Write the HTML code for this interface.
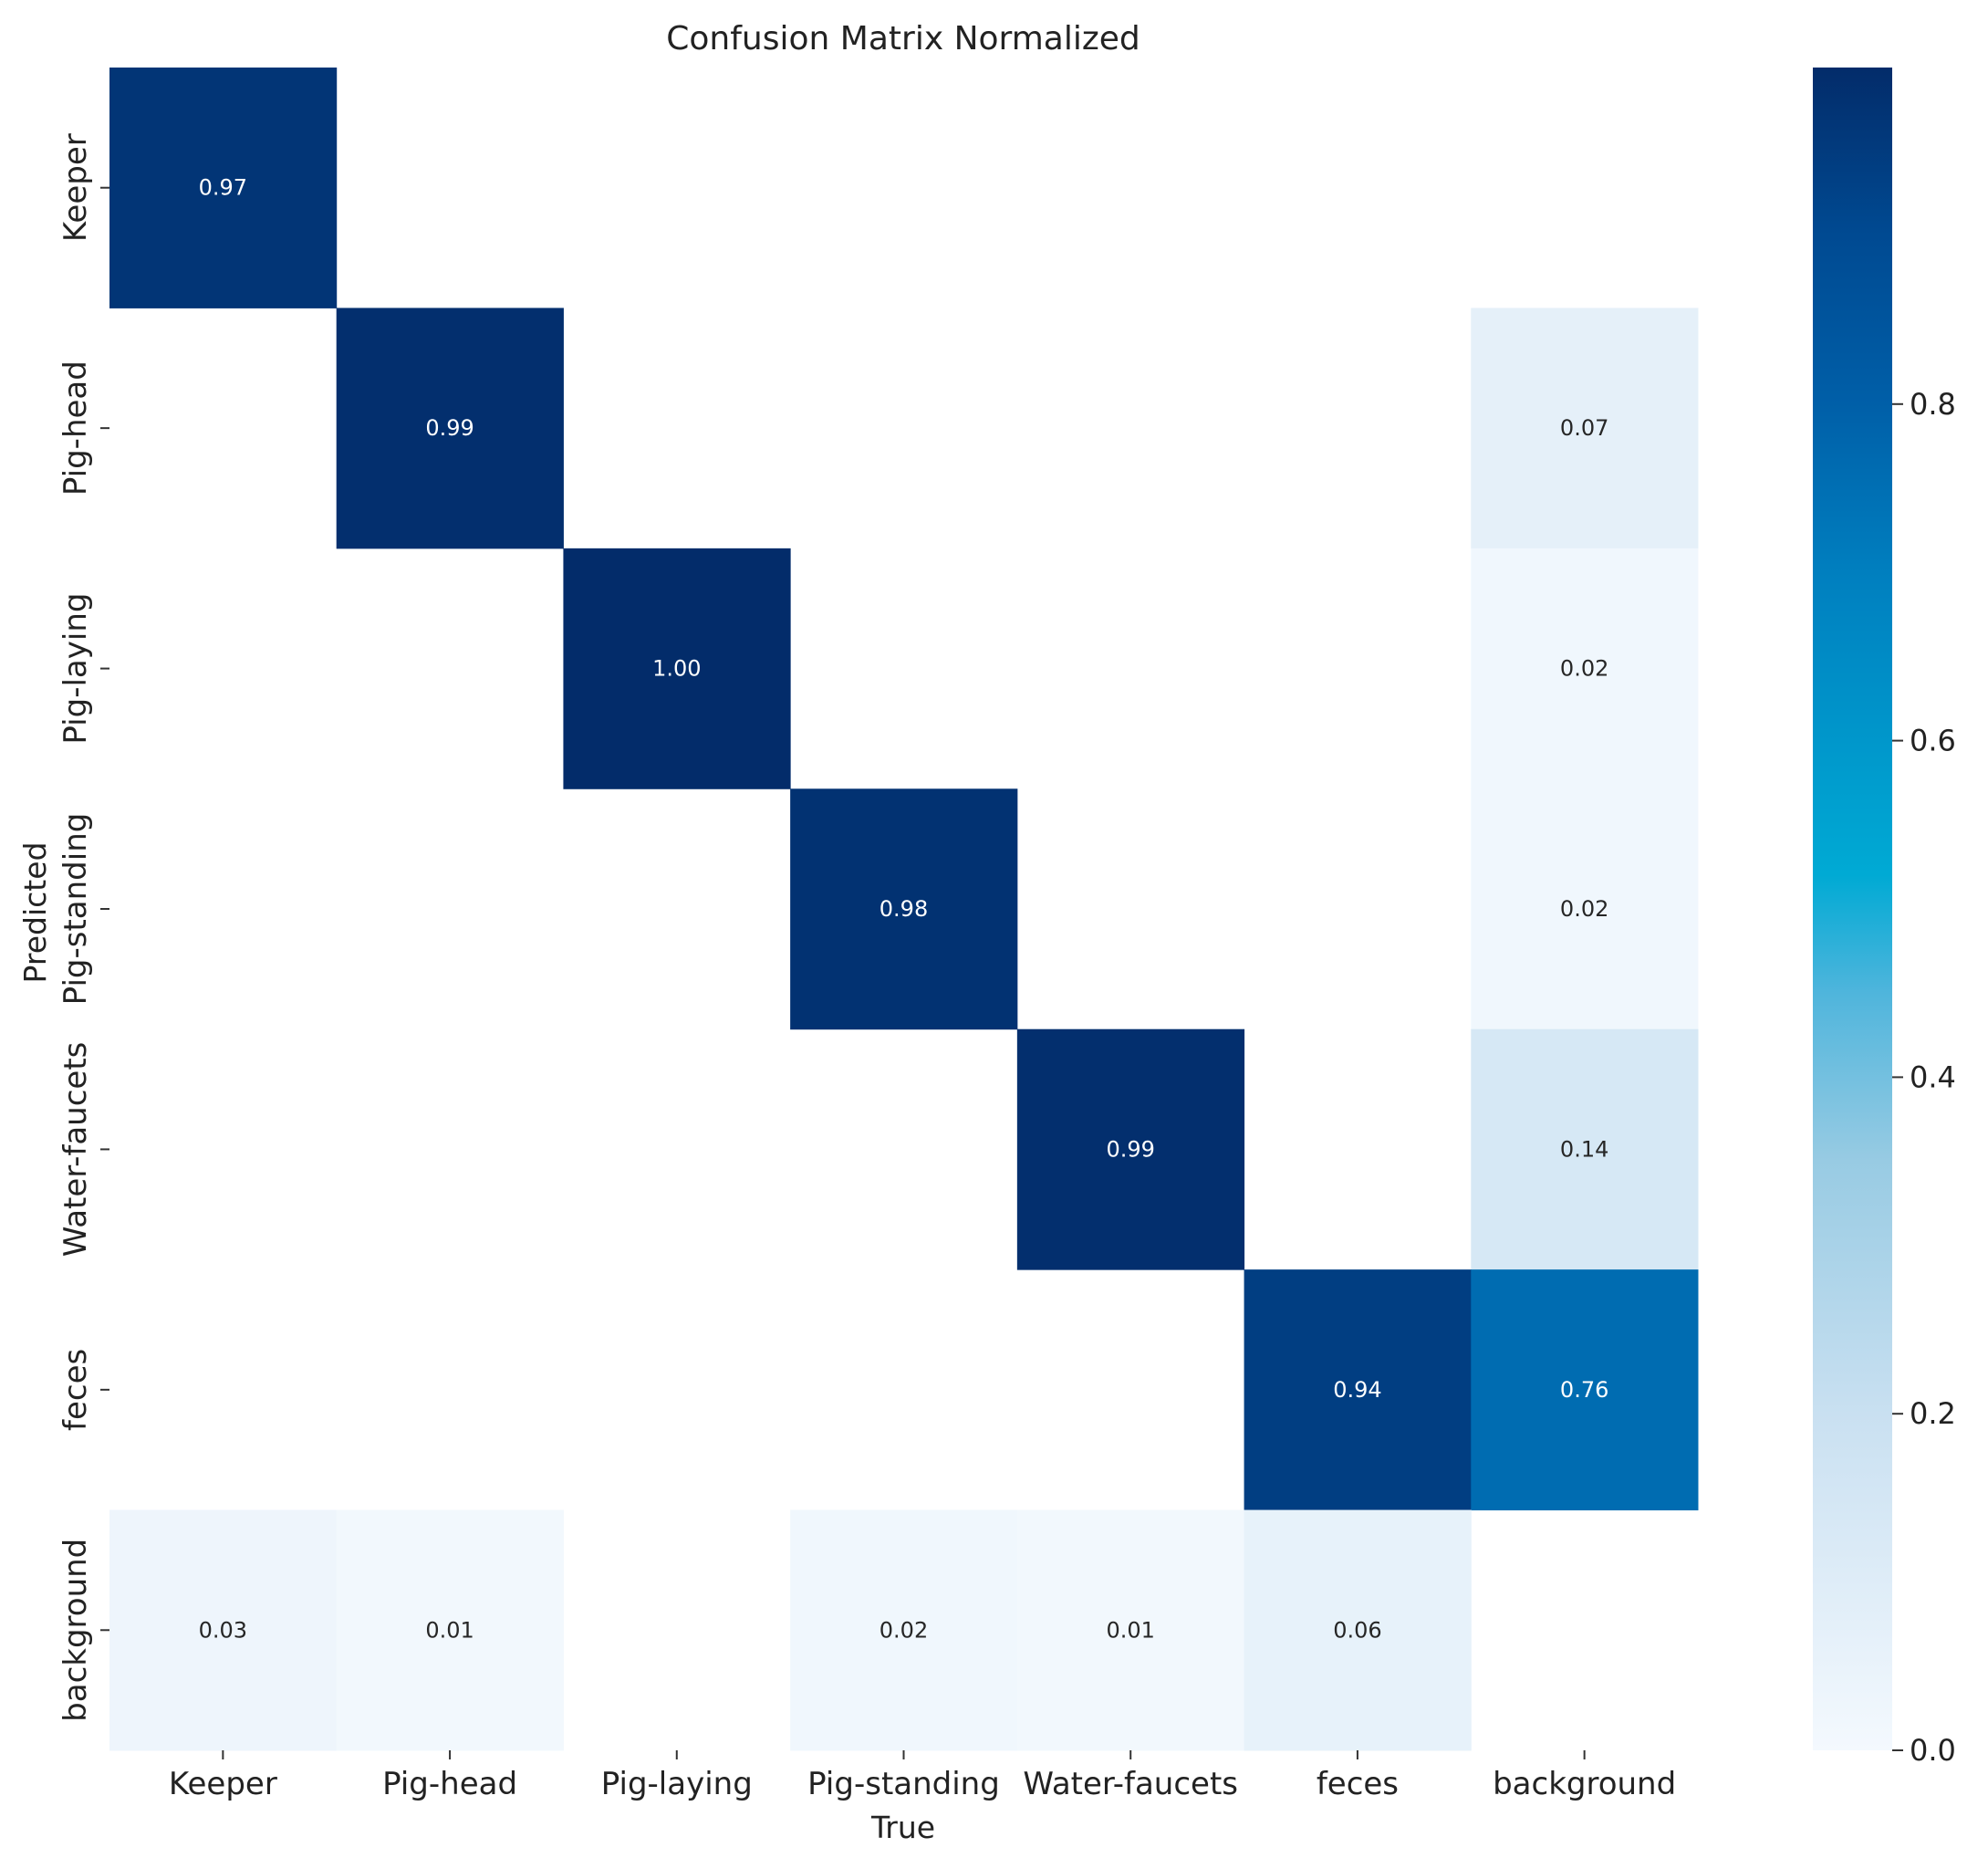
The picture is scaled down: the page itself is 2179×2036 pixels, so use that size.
<!DOCTYPE html>
<html><head><meta charset="utf-8"><style>
html,body{margin:0;padding:0;background:#fff;}
svg{display:block;font-family:"DejaVu Sans","Liberation Sans",sans-serif;}
</style></head><body>
<svg id="chart" width="2179" height="2036" viewBox="0 0 2179 2036" xmlns="http://www.w3.org/2000/svg">
<defs>
<linearGradient id="cbgrad" x1="0" y1="1" x2="0" y2="0">
<stop offset="0" stop-color="#f4f9fe"/>
<stop offset="0.2" stop-color="#c9e0f1"/>
<stop offset="0.35" stop-color="#98cbe3"/>
<stop offset="0.45" stop-color="#4fb5dc"/>
<stop offset="0.52" stop-color="#00aad4"/>
<stop offset="0.6" stop-color="#0097cb"/>
<stop offset="0.7" stop-color="#007fbf"/>
<stop offset="0.8" stop-color="#005fa8"/>
<stop offset="0.9" stop-color="#004a92"/>
<stop offset="1" stop-color="#032c6a"/>
</linearGradient>
</defs>
<text x="990" y="54" font-size="36" text-anchor="middle" fill="#222">Confusion Matrix Normalized</text>
<g id="cells"></g>
<g id="labels"></g>
<text x="990" y="2014" font-size="33" text-anchor="middle" fill="#222">True</text>
<text transform="translate(50,1000) rotate(-90)" font-size="33" text-anchor="middle" fill="#222">Predicted</text>
<rect x="1987" y="74" width="87" height="1844" fill="url(#cbgrad)"/>
<g id="cbticks"></g>
</svg>
<script>
const categories = ["Keeper","Pig-head","Pig-laying","Pig-standing","Water-faucets","feces","background"];
const rowKeeper = [0.97,0,0,0,0,0,0];
const rowPigHead = [0,0.99,0,0,0,0,0.07];
const rowPigLaying = [0,0,1.00,0,0,0,0.02];
const rowPigStanding = [0,0,0,0.98,0,0,0.02];
const rowWater = [0,0,0,0,0.99,0,0.14];
const rowFeces = [0,0,0,0,0,0.94,0.76];
const rowBackground = [0.03,0.01,0,0.02,0.01,0.06,0];
const matrix = [rowKeeper,rowPigHead,rowPigLaying,rowPigStanding,rowWater,rowFeces,rowBackground];
const cbTickValues = [0.0,0.2,0.4,0.6,0.8];
const cbTickLabels = ["0.0","0.2","0.4","0.6","0.8"];

const NS="http://www.w3.org/2000/svg";
const L=120,T=74,R=1861,B=1918, n=categories.length;
const cw=(R-L)/n, ch=(B-T)/n;
const xPos=i=>L+i*cw, yPos=j=>T+j*ch;
const vmin=0,vmax=1.0, cbTop=74, cbBot=1918;
const cbY=v=>cbBot-(v-vmin)/(vmax-vmin)*(cbBot-cbTop);
const stops=[[0,[244,249,254]],[0.2,[201,224,241]],[0.35,[152,203,227]],[0.45,[79,181,220]],[0.52,[0,170,212]],[0.6,[0,151,203]],[0.7,[0,127,191]],[0.8,[0,95,168]],[0.9,[0,74,146]],[1,[3,44,106]]];
function color(v){
  v=Math.max(0,Math.min(1,v));
  for(let k=1;k<stops.length;k++){
    if(v<=stops[k][0]){const a=stops[k-1],b=stops[k];const t=(v-a[0])/(b[0]-a[0]);
      const c=a[1].map((x,i)=>Math.round(x+(b[1][i]-x)*t));return `rgb(${c})`;}
  }
  return "rgb(3,44,106)";
}
function mk(tag,attrs,parent){const e=document.createElementNS(NS,tag);for(const k in attrs)e.setAttribute(k,attrs[k]);parent.appendChild(e);return e;}
const cells=document.getElementById('cells');
matrix.forEach((row,j)=>row.forEach((v,i)=>{
  if(v<=0)return;
  const r=mk('rect',{x:xPos(i),y:yPos(j),width:cw+0.5,height:ch+0.5,fill:color(v)},cells);
  
  
  const t=mk('text',{x:xPos(i)+cw/2,y:yPos(j)+ch/2+8,'font-size':24,'text-anchor':'middle',fill:v>0.5?'#ffffff':'#262626'},cells);
  t.textContent=v.toFixed(2);
  
  
}));
const lab=document.getElementById('labels');
categories.forEach((c,i)=>{
  const cx=xPos(i)+cw/2;
  const tk=mk('line',{x1:cx,x2:cx,y1:B,y2:B+10,stroke:'#333','stroke-width':2},lab);
  
  
  const t=mk('text',{x:cx,y:1966,'font-size':34,'text-anchor':'middle',fill:'#222'},lab);
  t.textContent=c;
  
  
  const cy=yPos(i)+ch/2;
  const ty=mk('line',{x1:L-10,x2:L,y1:cy,y2:cy,stroke:'#333','stroke-width':2},lab);
  
  
  const u=mk('text',{transform:`translate(94,${cy}) rotate(-90)`,'font-size':34,'text-anchor':'middle',fill:'#222'},lab);
  u.textContent=c;
  
  
});
const cbt=document.getElementById('cbticks');
cbTickValues.forEach((v,k)=>{
  const y=cbY(v);
  const l=mk('line',{x1:2074,x2:2086,y1:y,y2:y,stroke:'#333','stroke-width':2},cbt);
  
  
  const t=mk('text',{x:2093,y:y+11,'font-size':32,fill:'#222'},cbt);
  t.textContent=cbTickLabels[k];
  
  
});
</script>
</body></html>
